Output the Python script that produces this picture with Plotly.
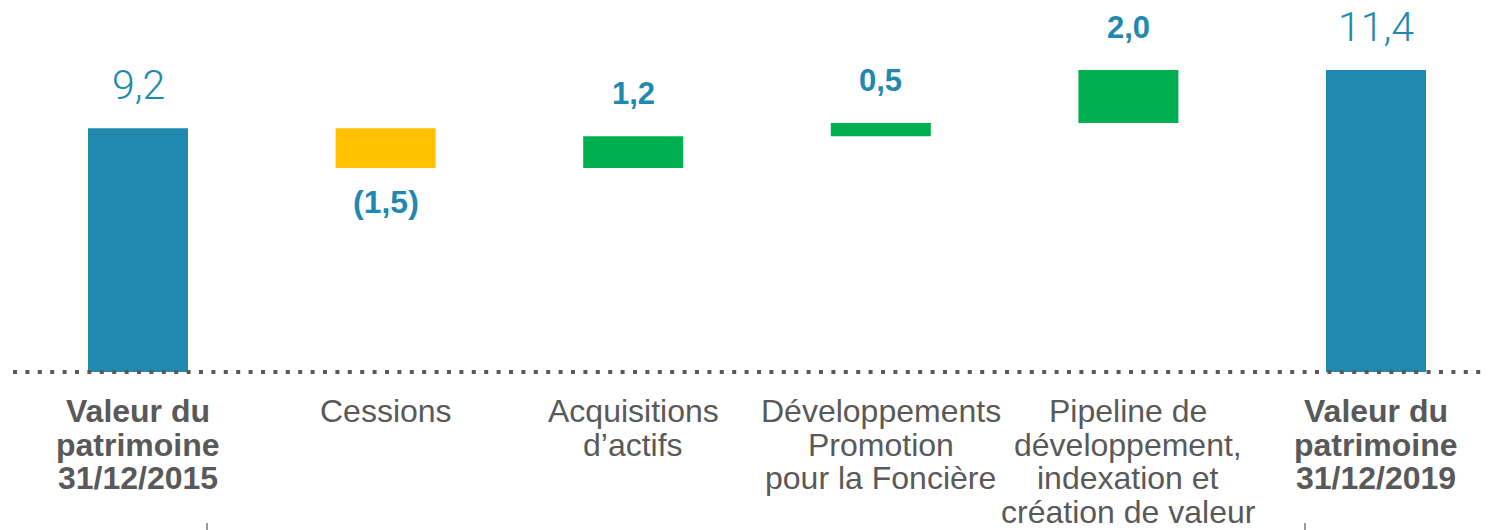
import plotly.graph_objects as go

# Patrimoine bridge 2015 -> 2019 (Md€)
categories = [
    "Valeur du\npatrimoine\n31/12/2015",
    "Cessions",
    "Acquisitions\nd’actifs",
    "Développements\nPromotion\npour la Foncière",
    "Pipeline de\ndéveloppement,\nindexation et\ncréation de valeur",
    "Valeur du\npatrimoine\n31/12/2019",
]
kinds = ["total", "delta", "delta", "delta", "delta", "total"]
values = [9.2, -1.5, 1.2, 0.5, 2.0, 11.4]

BLUE = "#1F89AF"
GREEN = "#00B050"
YELLOW = "#FFC000"
GREY = "#595959"

W, H = 1488, 530
ZERO_PX = 372          # pixel row of the zero line
PX_PER_UNIT = 26.5
CAT_STEP = 247.6       # pixels between category centres
FIRST_PX = 138         # pixel column of the first category

x_lo = -FIRST_PX / CAT_STEP
x_hi = (W - FIRST_PX) / CAT_STEP
y_hi = ZERO_PX / PX_PER_UNIT
y_lo = -(H - ZERO_PX) / PX_PER_UNIT

# waterfall geometry
bases, heights, colors, tops, bottoms = [], [], [], [], []
running = 0.0
for kind, v in zip(kinds, values):
    if kind == "total":
        base, h, col = 0.0, v, BLUE
        running = v
    else:
        start = running
        running = running + v
        base, h = min(start, running), abs(v)
        col = GREEN if v >= 0 else YELLOW
    bases.append(base)
    heights.append(h)
    colors.append(col)
    tops.append(base + h)
    bottoms.append(base)

xs = list(range(len(categories)))

fig = go.Figure(
    go.Bar(
        x=xs, y=heights, base=bases, width=100 / CAT_STEP,
        marker=dict(color=colors, line=dict(width=0)),
        hoverinfo="skip",
    )
)


def fmt(v, kind):
    s = f"{abs(v):.1f}".replace(".", ",")
    if kind == "delta" and v < 0:
        return f"({s})"
    return s


annotations = []
for i, (kind, v) in enumerate(zip(kinds, values)):
    label = fmt(v, kind)
    if kind == "total":
        annotations.append(dict(
            x=i, y=tops[i], xref="x", yref="y", text=label, showarrow=False,
            yanchor="bottom", yshift=17,
            font=dict(family="Roboto, Lato, Open Sans, sans-serif", size=41,
                      color=BLUE, weight=300),
        ))
    elif v < 0:
        annotations.append(dict(
            x=i, y=bottoms[i], xref="x", yref="y", text=label, showarrow=False,
            yanchor="top", yshift=-14,
            font=dict(family="Liberation Sans, Arial, sans-serif", size=32,
                      color=BLUE, weight="bold"),
        ))
    else:
        annotations.append(dict(
            x=i, y=tops[i], xref="x", yref="y", text=label, showarrow=False,
            yanchor="bottom", yshift=23,
            font=dict(family="Liberation Sans, Arial, sans-serif", size=31,
                      color=BLUE, weight="bold"),
        ))

# category labels, one line at a time for tight leading
LINE0_PX = 411
LINE_STEP = 33.6
for i, (cat, kind) in enumerate(zip(categories, kinds)):
    for k, line in enumerate(cat.split("\n")):
        ypx = LINE0_PX + k * LINE_STEP
        annotations.append(dict(
            x=i, y=1 - ypx / H, xref="x", yref="paper", text=line,
            showarrow=False, yanchor="middle",
            font=dict(family="Liberation Sans, Arial, sans-serif", size=32,
                      color=GREY, weight="bold" if kind == "total" else "normal"),
        ))

shapes = [
    # dotted zero line
    dict(type="line", xref="paper", yref="y", x0=13 / W, x1=1, y0=0, y1=0,
         line=dict(color=GREY, width=4, dash="4px,8.4px"), layer="above"),
    # small separators at the bottom edge
    dict(type="line", xref="paper", yref="paper", x0=207 / W, x1=207 / W,
         y0=0, y1=7 / H, line=dict(color="#9A9A9A", width=2)),
    dict(type="line", xref="paper", yref="paper", x0=1305 / W, x1=1305 / W,
         y0=0, y1=7 / H, line=dict(color="#9A9A9A", width=2)),
]

fig.update_layout(
    width=W, height=H,
    margin=dict(l=0, r=0, t=0, b=0),
    paper_bgcolor="white", plot_bgcolor="white",
    showlegend=False,
    xaxis=dict(range=[x_lo, x_hi], visible=False, fixedrange=True),
    yaxis=dict(range=[y_lo, y_hi], visible=False, fixedrange=True),
    annotations=annotations,
    shapes=shapes,
)

fig.write_html("out.html", config=dict(displayModeBar=False))
